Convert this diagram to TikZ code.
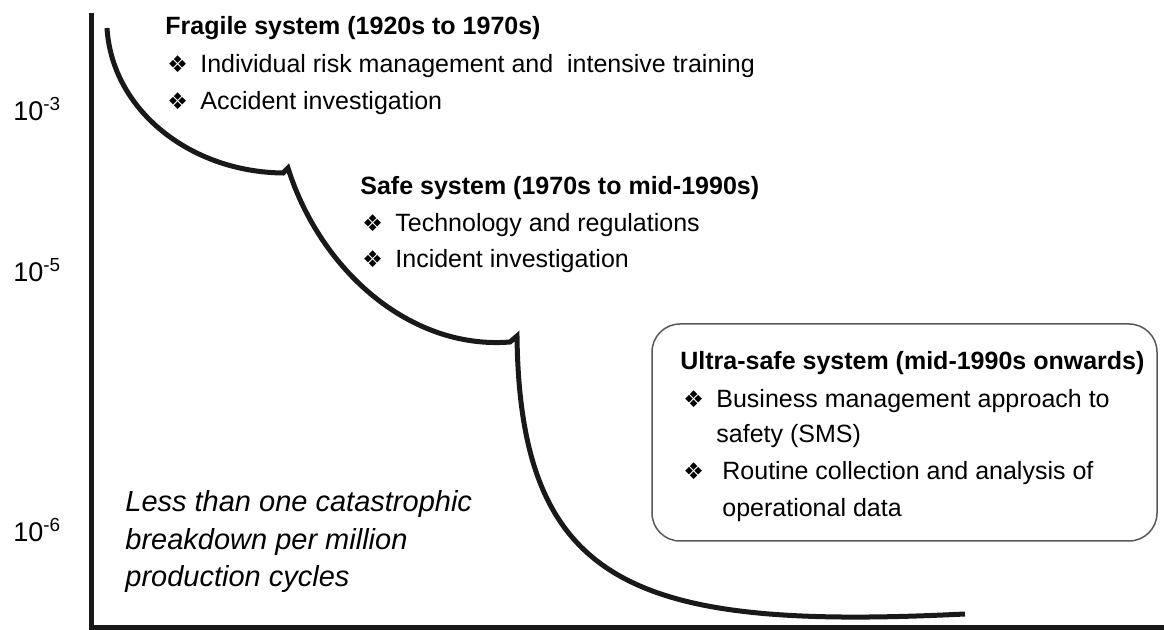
\documentclass[tikz,border=0pt]{standalone}
\usepackage{fontspec}
\setmainfont{Liberation Sans}
\newfontfamily\symfont{DejaVu Sans}
\newcommand{\bul}{\makebox[16.5pt][l]{\symfont\fontsize{11.5}{11.5}\selectfont ❖}}

\tikzset{
	linetext/.style={anchor=base west, inner sep=0pt, font=\fontsize{12.5}{15}\selectfont},
	headtext/.style={linetext, font=\bfseries\fontsize{12.5}{15}\selectfont},
	notetext/.style={linetext, font=\itshape\fontsize{14.5}{17}\selectfont},
	ytext/.style={linetext, font=\fontsize{13.5}{16}\selectfont},
	thickline/.style={line width=2.5pt, black!90},
}

\begin{document}
\begin{tikzpicture}[x=0.5pt, y=-0.5pt]
	\useasboundingbox (0,0) rectangle (1164,630);
	% axes
	\draw[thickline] (91,13) -- (91,628) -- (1164,628);
	\node[ytext] (y3) at (13,121) {10\textsuperscript{-3}};
	\node[ytext] (y5) at (13,282) {10\textsuperscript{-5}};
	\node[ytext] (y6) at (13,542) {10\textsuperscript{-6}};
	% the curve, three steps
	\draw[thickline] (107,28) .. controls (112,110) and (190,172) .. (283,173) -- (288,168)
		.. controls (320,270) and (410,350) .. (510,342) -- (517,336)
		.. controls (520,590) and (640,630) .. (965,614);
	% fragile
	\node[headtext] (frag-head) at (165,35) {Fragile system (1920s to 1970s)};
	\node[linetext] (frag-1) at (167,73) {\bul Individual risk management and\ \ intensive training};
	\node[linetext] (frag-2) at (167,110) {\bul Accident investigation};
	% safe
	\node[headtext] (safe-head) at (360,195) {Safe system (1970s to mid-1990s)};
	\node[linetext] (safe-1) at (362,232) {\bul Technology and regulations};
	\node[linetext] (safe-2) at (362,268) {\bul Incident investigation};
	% ultra-safe
	\node[draw=black!65, line width=0.75pt, rounded corners=14pt, minimum width=252.5pt, minimum height=108.5pt] (ultra-box) at (904.5,432.5) {};
	\node[headtext] (ultra-head) at (680,370) {Ultra-safe system (mid-1990s onwards)};
	\node[linetext] (ultra-1) at (683,408) {\bul Business management approach to};
	\node[linetext] (ultra-1b) at (716,443) {safety (SMS)};
	\node[linetext] (ultra-2) at (683,480) {\bul\hspace{3pt}Routine collection and analysis of};
	\node[linetext] (ultra-2b) at (722,517) {operational data};
	% note
	\node[notetext] (note-1) at (125,512) {Less than one catastrophic};
	\node[notetext] (note-2) at (125,550) {breakdown per million};
	\node[notetext] (note-3) at (125,587) {production cycles};
\end{tikzpicture}
\end{document}
